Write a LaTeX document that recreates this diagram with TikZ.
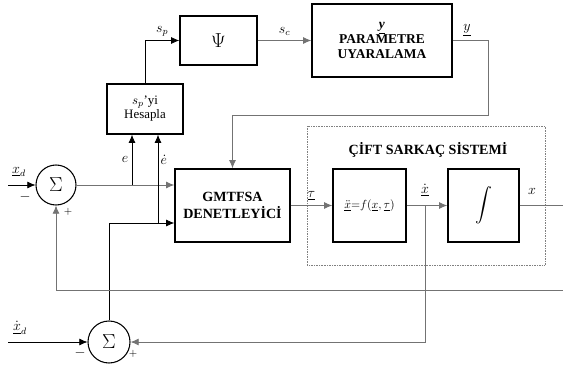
\documentclass[tikz,border=0pt]{standalone}
\usepackage{amsmath}
\usepackage{fontspec}
\setmainfont{Liberation Serif}
\usepackage{tikz}
\usetikzlibrary{arrows.meta}
\usetikzlibrary{positioning}
\usetikzlibrary{calc}

\begin{document}
\begin{tikzpicture}[x=0.03cm, y=-0.03cm, >={Latex[length=7pt,width=6pt]},
        block/.style={draw, line width=1.2pt, align=center, inner sep=2pt},
        sumnode/.style={circle, draw, line width=0.9pt, minimum size=1.2cm, inner sep=0pt},
        wire/.style={line width=0.6pt},
        gwire/.style={line width=0.8pt, draw=black!55},
        lbl/.style={inner sep=1pt, font=\large}]
        \useasboundingbox (0,0) rectangle (563,364);

        \node[block, minimum width=2.31cm, minimum height=1.47cm] (psi) at (218.5,40.5) {\LARGE$\Psi$};

        \node[block, minimum width=4.2cm, minimum height=2.19cm, font=\fontsize{11.5}{12.5}\selectfont\bfseries] (param) at (382,40.5) {\underline{\textit{y}}\\PARAMETRE\\UYARALAMA};

        \node[block, minimum width=2.28cm, minimum height=1.5cm, font=\fontsize{11}{12}\selectfont] (hes) at (145,109) {$s_p$'yi\\Hesapla};

        \node[block, minimum width=3.45cm, minimum height=2.19cm, font=\fontsize{12}{14}\selectfont\bfseries] (ctrl) at (232.5,205.5) {GMTFSA\\DENETLEYİCİ};

        \node[block, minimum width=2.19cm, minimum height=2.19cm] (dyn) at (369.5,205.5) {$\underline{\ddot{x}}{=}f(\underline{x},\underline{\tau})$};

        \node[block, minimum width=2.13cm, minimum height=2.19cm] (integ) at (483.5,205.5) {\Large$\displaystyle\int$};

        \node[sumnode] (sum1) at (56,185) {\LARGE$\Sigma$};

        \node[sumnode, minimum size=1.26cm] (sum2) at (109,342) {\LARGE$\Sigma$};

        \draw[densely dotted, black!50] (307,126) rectangle (545,265);
        \node[font=\fontsize{12}{14}\selectfont\bfseries] (title) at (428,150) {ÇİFT SARKAÇ SİSTEMİ};

        \coordinate (ybot) at (488,115);
        \coordinate (ebr) at (132,185);
        \coordinate (edbr) at (158,223);
        \coordinate (xdbr) at (425,205.5);
        \coordinate (xr) at (570,205.5);
        \coordinate (fb) at (570,290);
        \coordinate (xd) at (8,185);
        \coordinate (xdd) at (8,342);

        \draw[wire, ->] (hes.north) |- (psi.west) node[lbl, pos=0.75, above=2pt] (lsp) {$s_p$};
        \draw[gwire, ->] (psi.east) -- (param.west) node[lbl, midway, above=3pt] (lsc) {$s_c$};
        \draw[gwire, ->] (param.east) -| (ybot) -| (ctrl.north);
        \node[lbl] (ly) at (467,30) {$\underline{y}$};

        \draw[wire, ->] (xd) -- (sum1.west);
        \draw[gwire, ->] (sum1.east) -- (sum1.east -| ctrl.west);
        \draw[wire, ->] (ebr) -- (ebr |- hes.south) node[lbl, pos=0.5, left=2pt] (le) {$e$};
        \draw[wire, ->] (sum2.north) |- (edbr -| ctrl.west);
        \draw[wire, ->] (edbr) -- (edbr |- hes.south) node[lbl, pos=0.72, right=1pt] (led) {$\dot{e}$};

        \draw[gwire, ->] (ctrl.east) -- (dyn.west) node[lbl, pos=0.5, above=3pt] (ltau) {$\underline{\tau}$};
        \draw[gwire, ->] (dyn.east) -- (integ.west);
        \node[lbl] (lxd) at (425,190) {$\dot{\underline{x}}$};
        \draw[gwire, ->] (xdbr) |- (sum2.east);
        \draw[gwire, ->] (integ.east) -- (xr) -- (fb) -| (sum1.south);
        \node[lbl] (lx) at (532,191) {$x$};

        \draw[wire, ->] (xdd) -- (sum2.west);

        \node[lbl] (lin1) at (19,172) {$\underline{x}_d$};
        \node[lbl] (lm1) at (25,197) {$-$};
        \node[lbl] (lp1) at (68,212) {\small$+$};
        \node[lbl] (lin2) at (20,328) {$\dot{\underline{x}}_d$};
        \node[lbl] (lm2) at (80,353) {$-$};
        \node[lbl] (lp2) at (133,354) {\small$+$};
      \end{tikzpicture}
\end{document}
